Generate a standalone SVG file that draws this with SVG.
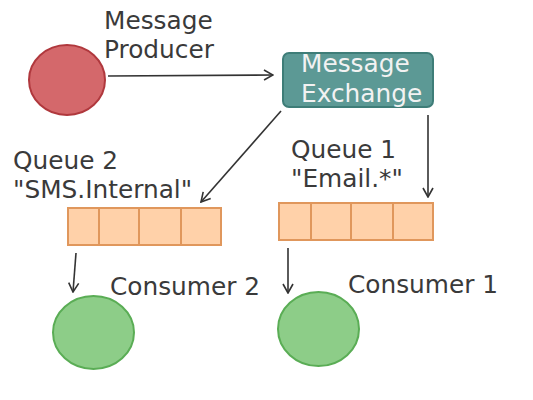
<svg xmlns="http://www.w3.org/2000/svg" width="533" height="400" viewBox="0 0 533 400">
<style>
text{font-family:"DejaVu Sans",Verdana,sans-serif;font-size:24.8px;fill:#3a3a3a}
.w{fill:#f2f2f2}
.c{stroke:#333;stroke-width:1.6;fill:none;marker-end:url(#a)}
.q{fill:#ffd1a9;stroke:#e0975c;stroke-width:2}
.g{fill:#8dcd88;stroke:#5aad55;stroke-width:2}
</style>
<defs>
<marker id="a" viewBox="0 0 12 12" refX="11" refY="6" markerWidth="12" markerHeight="12" markerUnits="userSpaceOnUse" orient="auto">
<path d="M2,1 L11,6 L2,11" fill="none" stroke="#333" stroke-width="1.6"/>
</marker>
</defs>
<g id="producer">
<ellipse cx="67" cy="80" rx="38" ry="35" fill="#d4686b" stroke="#b0383d" stroke-width="2"/>
<text x="104" y="29">Message</text>
<text x="104" y="58">Producer</text>
</g>
<g id="exchange">
<rect x="283" y="53" width="150" height="54" rx="6" fill="#5c9995" stroke="#3e7d78" stroke-width="2"/>
<text class="w" x="301" y="72">Message</text>
<text class="w" x="301" y="102">Exchange</text>
</g>
<g id="queue2">
<text x="13" y="169">Queue 2</text>
<text x="13" y="198">"SMS.Internal"</text>
<rect class="q" x="68" y="208" width="31" height="37"/>
<rect class="q" x="99" y="208" width="40" height="37"/>
<rect class="q" x="139" y="208" width="42" height="37"/>
<rect class="q" x="181" y="208" width="40" height="37"/>
</g>
<g id="queue1">
<text x="291" y="158">Queue 1</text>
<text x="291" y="187">"Email.*"</text>
<rect class="q" x="279" y="203" width="32" height="37"/>
<rect class="q" x="311" y="203" width="40" height="37"/>
<rect class="q" x="351" y="203" width="42" height="37"/>
<rect class="q" x="393" y="203" width="40" height="37"/>
</g>
<g id="consumer2">
<ellipse class="g" cx="93.5" cy="332.5" rx="40.5" ry="36.5"/>
<text x="110" y="295">Consumer 2</text>
</g>
<g id="consumer1">
<ellipse class="g" cx="318.5" cy="329" rx="40.5" ry="37"/>
<text x="348" y="293">Consumer 1</text>
</g>
<g id="connectors">
<line class="c" x1="108" y1="76" x2="273" y2="75"/>
<line class="c" x1="281" y1="111" x2="201" y2="202"/>
<line class="c" x1="428" y1="115" x2="428" y2="197"/>
<line class="c" x1="76" y1="253" x2="73" y2="292"/>
<line class="c" x1="288" y1="248" x2="288" y2="293"/>
</g>
</svg>
